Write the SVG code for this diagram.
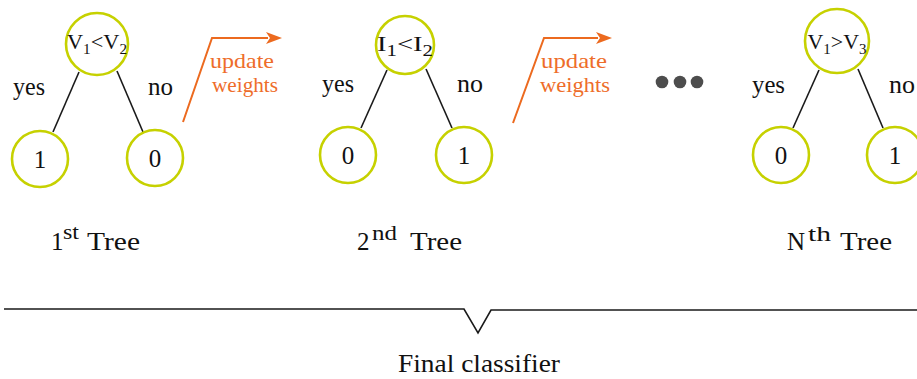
<svg xmlns="http://www.w3.org/2000/svg" width="917" height="379" viewBox="0 0 917 379" font-family="'Liberation Serif', 'DejaVu Serif', serif">
  <style>
    .node { fill: #ffffff; stroke: #c6d100; stroke-width: 2.6; }
    .edge { stroke: #1a1a1a; stroke-width: 1.6; fill: none; }
    .upd { stroke: #ec6a1f; stroke-width: 2; fill: none; }
    text { fill: #111111; }
    .lbl { font-size: 25px; }
    .num { font-size: 25px; text-anchor: middle; }
    .root { font-size: 22px; text-anchor: middle; }
    .orange { fill: #ee6d2a; font-size: 21px; text-anchor: middle; }
    .cap { font-size: 25px; }
    .sup { font-size: 21px; }
  </style>
  <defs>
    <marker id="tip" viewBox="0 0 16 12" refX="2" refY="6" markerWidth="16" markerHeight="12" markerUnits="userSpaceOnUse" orient="auto">
      <path d="M0,0 L16,6 L0,12 L4,6 Z" fill="#ec6a1f"/>
    </marker>
  </defs>

  <!-- connectors -->
  <g id="connectors">
    <line class="edge" x1="79" y1="72" x2="53" y2="132"/>
    <line class="edge" x1="117" y1="71" x2="143" y2="132"/>
    <line class="edge" x1="387" y1="70" x2="361" y2="128"/>
    <line class="edge" x1="426" y1="69" x2="452" y2="128"/>
    <line class="edge" x1="819" y1="70" x2="793" y2="128"/>
    <line class="edge" x1="858" y1="69" x2="883" y2="128"/>
    <path class="upd" d="M183,122 L212,38 L268,38" marker-end="url(#tip)"/>
    <path class="upd" d="M513,123 L544,38 L598,38" marker-end="url(#tip)"/>
  </g>

  <!-- tree 1 -->
  <g id="t1-root">
    <circle class="node" cx="97" cy="44" r="31"/>
    <text class="root" x="97" y="49" textLength="60" lengthAdjust="spacingAndGlyphs">V<tspan font-size="15" dy="5">1</tspan><tspan dy="-5">&lt;</tspan>V<tspan font-size="15" dy="5">2</tspan></text>
  </g>
  <g id="t1-left">
    <circle class="node" cx="40" cy="159" r="28"/>
    <text class="num" x="40" y="168">1</text>
  </g>
  <g id="t1-right">
    <circle class="node" cx="155" cy="158" r="28"/>
    <text class="num" x="155" y="167">0</text>
  </g>
  <text class="lbl" x="13" y="95" textLength="32" lengthAdjust="spacingAndGlyphs">yes</text>
  <text class="lbl" x="148" y="95" textLength="25" lengthAdjust="spacingAndGlyphs">no</text>
  <text class="orange" x="242" y="68" textLength="64" lengthAdjust="spacingAndGlyphs">update</text>
  <text class="orange" x="245" y="92" textLength="66" lengthAdjust="spacingAndGlyphs">weights</text>

  <!-- tree 2 -->
  <g id="t2-root">
    <circle class="node" cx="405" cy="45" r="29"/>
    <text class="root" x="405" y="51" font-size="24" textLength="56" lengthAdjust="spacingAndGlyphs">I<tspan font-size="16" dy="5">1</tspan><tspan dy="-5">&lt;</tspan>I<tspan font-size="16" dy="5">2</tspan></text>
  </g>
  <g id="t2-left">
    <circle class="node" cx="348" cy="155" r="28"/>
    <text class="num" x="348" y="164">0</text>
  </g>
  <g id="t2-right">
    <circle class="node" cx="464" cy="155" r="28"/>
    <text class="num" x="464" y="164">1</text>
  </g>
  <text class="lbl" x="322" y="92" textLength="32" lengthAdjust="spacingAndGlyphs">yes</text>
  <text class="lbl" x="457" y="92" textLength="26" lengthAdjust="spacingAndGlyphs">no</text>
  <text class="orange" x="574" y="68" textLength="66" lengthAdjust="spacingAndGlyphs">update</text>
  <text class="orange" x="575" y="92" textLength="70" lengthAdjust="spacingAndGlyphs">weights</text>

  <!-- ellipsis -->
  <g id="ellipsis" fill="#4d4d4d">
    <circle cx="662" cy="82" r="6.3"/>
    <circle cx="680" cy="82" r="6.3"/>
    <circle cx="697" cy="82" r="6.3"/>
  </g>

  <!-- tree N -->
  <g id="tn-root">
    <circle class="node" cx="837" cy="41" r="32"/>
    <text class="root" x="837" y="49" textLength="59" lengthAdjust="spacingAndGlyphs">V<tspan font-size="15" dy="5">1</tspan><tspan dy="-5">&gt;</tspan>V<tspan font-size="15" dy="5">3</tspan></text>
  </g>
  <g id="tn-left">
    <circle class="node" cx="781" cy="155" r="28"/>
    <text class="num" x="781" y="164">0</text>
  </g>
  <g id="tn-right">
    <circle class="node" cx="895" cy="155" r="28"/>
    <text class="num" x="895" y="164">1</text>
  </g>
  <text class="lbl" x="752" y="93" textLength="33" lengthAdjust="spacingAndGlyphs">yes</text>
  <text class="lbl" x="889" y="93" textLength="26" lengthAdjust="spacingAndGlyphs">no</text>

  <!-- tree captions -->
  <text class="cap" x="51" y="250">1<tspan class="sup" x="63" y="239" textLength="16" lengthAdjust="spacingAndGlyphs">st</tspan><tspan x="87" y="250" textLength="53" lengthAdjust="spacingAndGlyphs">Tree</tspan></text>
  <text class="cap" x="357" y="250">2<tspan class="sup" x="372" y="240" textLength="25" lengthAdjust="spacingAndGlyphs">nd</tspan><tspan x="410" y="250" textLength="52" lengthAdjust="spacingAndGlyphs">Tree</tspan></text>
  <text class="cap" x="787" y="250">N<tspan class="sup" x="808" y="241" textLength="23" lengthAdjust="spacingAndGlyphs">th</tspan><tspan x="840" y="250" textLength="52" lengthAdjust="spacingAndGlyphs">Tree</tspan></text>

  <!-- brace over all trees -->
  <polyline points="4,309 464,309 478,333 491,310 917,310" fill="none" stroke="#1a1a1a" stroke-width="1.6"/>
  <text class="cap" x="479" y="372" text-anchor="middle" font-size="24" textLength="162" lengthAdjust="spacingAndGlyphs">Final classifier</text>
</svg>
